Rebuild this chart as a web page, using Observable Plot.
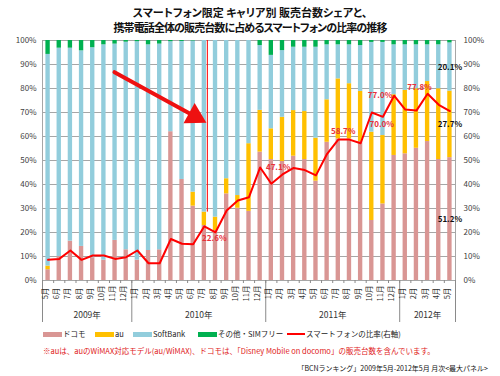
<!DOCTYPE html>
<html><head><meta charset="utf-8">
<script src="https://cdn.jsdelivr.net/npm/d3@7"></script>
<script src="https://cdn.jsdelivr.net/npm/@observablehq/plot@0.6"></script>
<style>
body{margin:0;background:#fff;}
#wrap{position:relative;width:500px;height:376px;font-family:'Noto Sans CJK JP',sans-serif;overflow:hidden;background:#fff;}
.title{position:absolute;left:0;width:500px;text-align:center;font-size:11px;font-weight:bold;color:#111;line-height:1;font-feature-settings:"palt";}
#chart{position:absolute;left:0;top:0;}
.lg{position:absolute;top:329px;display:flex;align-items:center;font-size:7.5px;color:#222;line-height:10px;height:10px;}
.sw{display:inline-block;width:19px;height:5px;margin-right:1px;}
.ln{display:inline-block;width:18px;height:2px;background:#ff0000;margin-right:1px;}
#note{position:absolute;left:43px;top:346px;font-size:7.5px;color:#e02020;white-space:nowrap;line-height:10px;}
#source{position:absolute;right:12px;top:363px;font-size:7px;color:#111;white-space:nowrap;line-height:10px;}
</style></head><body>
<div id="wrap">
<div class="title" style="top:7px">スマートフォン限定 キャリア別 販売台数シェアと、</div>
<div class="title" style="top:22px;letter-spacing:-0.9px">携帯電話全体の販売台数に占めるスマートフォンの比率の推移</div>
<div id="chart"></div>
<div class="lg" style="left:43px"><span class="sw" style="background:#D99694"></span>ドコモ</div>
<div class="lg" style="left:95px"><span class="sw" style="background:#FFC000"></span>au</div>
<div class="lg" style="left:133px"><span class="sw" style="background:#92CDDC"></span>SoftBank</div>
<div class="lg" style="left:198px"><span class="sw" style="background:#00B050"></span>その他・SIMフリー</div>
<div class="lg" style="left:287px"><span class="ln"></span>スマートフォンの比率(右軸)</div>
<div id="note">※auは、auのWiMAX対応モデル(au/WiMAX)、ドコモは、「Disney Mobile on docomo」の販売台数を含んでいます。</div>
<div id="source">「BCNランキング」2009年5月-2012年5月 月次&lt;最大パネル&gt;</div>
</div>
<script>
const monthLabels = [
  "5月","6月","7月","8月","9月","10月","11月","12月",
  "1月","2月","3月","4月","5月","6月","7月","8月","9月","10月","11月","12月",
  "1月","2月","3月","4月","5月","6月","7月","8月","9月","10月","11月","12月",
  "1月","2月","3月","4月","5月"
];
const yearLabels = ["2009年","2010年","2011年","2012年"];
const yearMonthCounts = [8, 12, 12, 5];
const seriesNames = ["ドコモ","au","SoftBank","その他・SIMフリー"];
const seriesColors = ["#D99694","#FFC000","#92CDDC","#00B050"];

const docomo = [4.5,10.0,16.4,14.2,9.5,8.5,16.7,12.8, 8.5,12.5,12.8,62.0,42.1,31.0,22.9,20.8,36.1,30.1,28.8,53.5, 50.4,49.6,51.8,50.4,41.4,57.6,59.0,59.0,57.9,25.0,31.9,52.1, 52.8,55.1,57.9,50.4,51.2];
const au = [1.5,0,0,0,0,0,0,0, 0,0,0,0,0,5.8,5.6,5.6,6.3,5.3,28.2,17.4, 12.8,18.4,19.0,20.0,17.9,17.7,25.0,23.0,20.9,36.8,28.5,25.3, 26.4,24.8,25.0,29.5,27.7];
const softbank = [88.2,86.8,80.4,81.5,87.5,89.7,81.8,86.5, 91.0,85.7,85.7,37.5,57.5,63.0,71.5,73.6,57.6,64.6,43.0,27.0, 30.6,27.8,26.4,26.8,37.9,22.9,14.2,16.2,19.1,37.4,38.8,20.8, 19.0,18.3,15.3,18.3,20.1];
const other = [5.8,3.2,3.2,4.3,3.0,1.8,1.5,0.7, 0.5,1.8,1.5,0.5,0.4,0.2,0,0,0,0,0,2.1, 6.2,4.2,2.8,2.8,2.8,1.8,1.8,1.8,2.1,0.8,0.8,1.8, 1.8,1.8,1.8,1.8,1.0];
const smartphoneRatio = [8.6,9.0,12.5,8.6,10.4,10.4,9.0,9.7, 12.5,7.2,7.2,17.3,15.3,15.1,22.6,20.1,29.2,33.3,34.7,47.1, 40.3,44.2,46.9,46.0,43.8,52.8,58.7,58.7,57.2,70.0,68.2,77.0, 71.2,70.8,77.8,73.2,70.6];

// labelled points of the ratio line: month index and placement
const ratioLabelsBelowRight = [14, 29];
const ratioLabelsRight = [19];
const ratioLabelsAbove = [26];
const ratioLabelsLeft = [31];
const ratioLabelsAboveLeft = [34];

// annotation arrow (month index, percent)
const arrowShaft = [{i: 6.45, pct: 86.8}, {i: 13.55, pct: 68.6}];
const arrowHead = [{i: 13.65, pct: 68.4}];
const highlightMonth = 14;

const seriesValues = [docomo, au, softbank, other];
const rows = [];
monthLabels.forEach((m, i) => {
  seriesNames.forEach((s, k) => {
    rows.push({i, x1: i, x2: i + 1, series: s, value: seriesValues[k][i]});
  });
});
const ratioRows = smartphoneRatio.map((v, i) => ({i, v}));
const yearBounds = [0, ...d3.cumsum(yearMonthCounts)];
const yearRows = yearLabels.map((label, k) => ({label, mid: (yearBounds[k] + yearBounds[k + 1]) / 2}));
const last = monthLabels.length - 1;
const lastLabels = [
  {v: docomo[last], mid: docomo[last] / 2},
  {v: au[last], mid: docomo[last] + au[last] / 2},
  {v: softbank[last], mid: docomo[last] + au[last] + softbank[last] / 2}
];
const pick = (arr) => arr.map(i => ratioRows[i]);
const red = "#ff0000";
const lblRed = "#e8303a";
const fmt = d => d.v.toFixed(1) + "%";

const chart = Plot.plot({
  width: 500,
  height: 330,
  marginTop: 40,
  marginBottom: 50,
  marginLeft: 42,
  marginRight: 45,
  style: {fontFamily: "'Noto Sans CJK JP', sans-serif", fontSize: "8px", background: "transparent", color: "#333", overflow: "visible"},
  x: {domain: [0, monthLabels.length]},
  y: {domain: [0, 100]},
  color: {domain: seriesNames, range: seriesColors},
  marks: [
    Plot.gridY({ticks: d3.range(0, 101, 10), stroke: "#a6a6a6", strokeOpacity: 1}),
    Plot.rectY(rows, Plot.stackY({x1: "x1", x2: "x2", y: "value", fill: "series", insetLeft: 3.4, insetRight: 3.4})),
    Plot.ruleX([0, monthLabels.length], {stroke: "#a6a6a6"}),
    Plot.axisY({ticks: d3.range(0, 101, 10), tickFormat: d => d + "%", tickSize: 0, tickPadding: 6, anchor: "left", label: null, fill: "#404040"}),
    Plot.axisY({ticks: d3.range(0, 101, 10), tickFormat: d => d + "%", tickSize: 0, tickPadding: 8, anchor: "right", label: null, fill: "#404040"}),
    Plot.axisX({ticks: d3.range(0, monthLabels.length + 1), tickSize: 3, tickFormat: () => "", stroke: "#8a8a8a", label: null}),
    Plot.axisX({ticks: yearBounds, tickSize: 42, tickFormat: () => "", stroke: "#8a8a8a", label: null}),
    Plot.text(monthLabels, {x: (d, i) => i + 0.5, text: d => d, frameAnchor: "bottom", rotate: -90, dy: 13, fontSize: 7.5, fill: "#333"}),
    Plot.text(yearRows, {x: "mid", text: "label", frameAnchor: "bottom", dy: 37, fontSize: 8.5, fill: "#333"}),
    Plot.ruleX([highlightMonth], {x: d => d + 0.5, y1: d => docomo[d] + au[d], y2: 100, stroke: red, strokeWidth: 1, dx: 3}),
    Plot.line(ratioRows, {x: d => d.i + 0.5, y: "v", stroke: red, strokeWidth: 2}),
    Plot.text(pick(ratioLabelsBelowRight), {x: d => d.i + 0.5, y: "v", text: fmt, dx: 10, dy: 12, fill: lblRed, fontWeight: "bold", fontSize: 8}),
    Plot.text(pick(ratioLabelsRight), {x: d => d.i + 0.5, y: "v", text: fmt, dx: 18, dy: 0, fill: lblRed, fontWeight: "bold", fontSize: 8}),
    Plot.text(pick(ratioLabelsAbove), {x: d => d.i + 0.5, y: "v", text: fmt, dx: 5, dy: -8, fill: lblRed, fontWeight: "bold", fontSize: 8}),
    Plot.text(pick(ratioLabelsLeft), {x: d => d.i + 0.5, y: "v", text: fmt, dx: -14, dy: 0, fill: lblRed, fontWeight: "bold", fontSize: 8}),
    Plot.text(pick(ratioLabelsAboveLeft), {x: d => d.i + 0.5, y: "v", text: fmt, dx: -8, dy: -6, fill: lblRed, fontWeight: "bold", fontSize: 8}),
    Plot.text(lastLabels, {x: last + 0.5, y: "mid", text: fmt, fill: "#111", fontWeight: "bold", fontSize: 8}),
    Plot.line(arrowShaft, {x: "i", y: "pct", stroke: "#ee1111", strokeWidth: 4}),
    Plot.dot(arrowHead, {x: "i", y: "pct", symbol: "triangle", r: 8.5, fill: "#ee1111", rotate: 119})
  ]
});
document.getElementById("chart").append(chart);
</script>
</body></html>
